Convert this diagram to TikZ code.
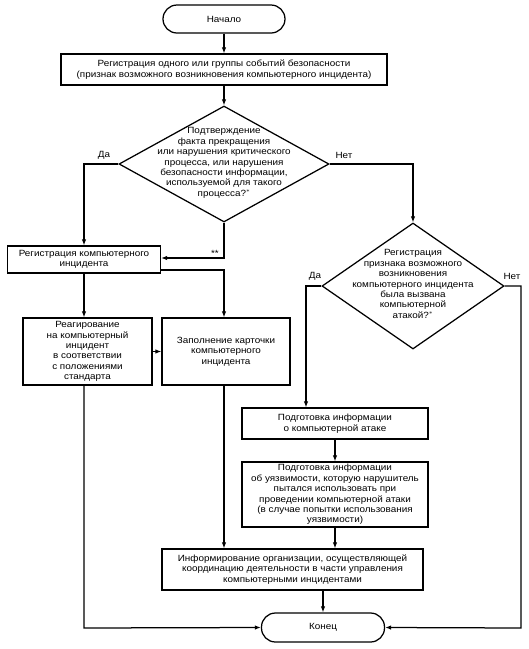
\documentclass[tikz,border=0pt]{standalone}
\usepackage{fontspec}
\setmainfont{Liberation Sans}[FakeStretch=1.1]
\usetikzlibrary{shapes.geometric,arrows.meta,calc}
\begin{document}
\begin{tikzpicture}[x=1pt,y=-1pt,
  every node/.style={font=\fontsize{9}{10.4}\selectfont, align=center, inner sep=0pt},
  box/.style={draw, line width=1.25pt, rectangle},
  term/.style={draw, line width=1.25pt, rectangle, rounded corners=14pt},
  dia/.style={draw, line width=1.25pt, diamond, inner sep=0pt},
  conn/.style={line width=1.25pt, -{Latex[length=6pt,width=4.5pt]}},
  lab/.style={font=\fontsize{9}{10}\selectfont}
]
\useasboundingbox (0,0) rectangle (529,649);
\fill[white] (0,0) rectangle (529,649);

\node[term, minimum width=122pt, minimum height=28pt] (start) at (224,19) {Начало};
\node[box, minimum width=326pt, minimum height=31pt] (b1) at (224,69.5)
  {Регистрация одного или группы событий безопасности\\(признак возможного возникновения компьютерного инцидента)};
\node[dia, minimum width=210pt, minimum height=116pt] (d1) at (224,164) {};
\node (d1t) at (224,163) {Подтверждение\\факта прекращения\\или нарушения критического\\процесса, или нарушения\\безопасности информации,\\используемой для такого\\процесса?$^{*}$};
\node[box, minimum width=153pt, minimum height=27pt] (b2) at (84,259.5)
  {Регистрация компьютерного\\инцидента};
\node[box, minimum width=129pt, minimum height=67pt] (r1) at (87.5,351.5)
  {Реагирование\\на компьютерный\\инцидент\\в соответствии\\с положениями\\стандарта};
\node[box, minimum width=128pt, minimum height=67pt] (z1) at (226,351.5)
  {Заполнение карточки\\компьютерного\\инцидента};
\node[dia, minimum width=182pt, minimum height=126pt] (d2) at (413,286) {};
\node (d2t) at (413,284) {Регистрация\\признака возможного\\возникновения\\компьютерного инцидента\\была вызвана\\компьютерной\\атакой?$^{*}$};
\node[box, minimum width=186pt, minimum height=31pt] (p1) at (335,423.5)
  {Подготовка информации\\о компьютерной атаке};
\node[box, minimum width=186pt, minimum height=65pt] (p2) at (335,494.5)
  {Подготовка информации\\об уязвимости, которую нарушитель\\пытался использовать при\\проведении компьютерной атаки\\(в случае попытки использования\\уязвимости)};
\node[box, minimum width=261pt, minimum height=41pt] (inf) at (292.5,569.5)
  {Информирование организации, осуществляющей\\координацию деятельности в части управления\\компьютерными инцидентами};
\node[term, minimum width=123pt, minimum height=29pt] (end) at (323,627.5) {Конец};

% labels
\node[lab] (l1) at (104,155) {Да};
\node[lab] (l2) at (344,155) {Нет};
\node[lab] (l3) at (315,276) {Да};
\node[lab] (l4) at (512,276) {Нет};
\node[lab] (l5) at (215,253) {**};

% helper coordinates
\coordinate (c1) at (84,164);
\coordinate (c2) at (224,258);
\coordinate (c3) at (224,270);
\coordinate (c4) at (84,628);
\coordinate (c5) at (413,164);
\coordinate (c6) at (306,286);
\coordinate (c7) at (521,286);
\coordinate (c8) at (521,628);

\draw[conn] (start) -- (b1);
\draw[conn] (b1) -- (d1);
\draw[conn] (d1.west) -- (c1) -- (c1 |- b2.north);
\draw[conn] (d1.south) -- (c2) -- (c2 -| b2.east);
\draw[conn] (c3 -| b2.east) -- (c3) -- (c3 |- z1.north);
\draw[conn] (b2.south) -- (b2.south |- r1.north);
\draw[conn] (r1.east) -- (z1.west);
\draw[conn] (b2.south |- r1.south) -- (c4) -- (end.west);
\draw[conn] (c3 |- z1.south) -- (c3 |- inf.north);
\draw[conn] (d1.east) -- (c5) -- (d2.north);
\draw[conn] (d2.west) -- (c6) -- (c6 |- p1.north);
\draw[conn] (p1) -- (p2);
\draw[conn] (p2) -- (p2 |- inf.north);
\draw[conn] (end.north |- inf.south) -- (end.north);
\draw[conn] (d2.east) -- (c7) -- (c8) -- (end.east);
\end{tikzpicture}
\end{document}
